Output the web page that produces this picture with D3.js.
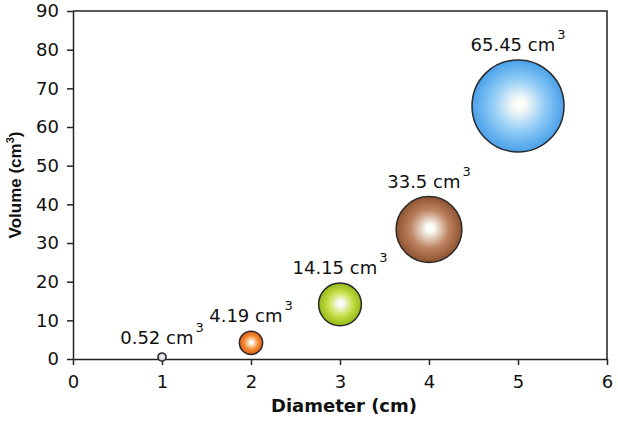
<!DOCTYPE html>
<html>
<head>
<meta charset="utf-8">
<script src="https://cdn.jsdelivr.net/npm/d3@7"></script>
<style>
  html, body { margin: 0; padding: 0; background: #fff; }
  svg { display: block; }
</style>
</head>
<body>
<svg id="chart" width="618" height="427"></svg>
<script>
// ---- data ----
const diameters = [1, 2, 3, 4, 5];
const volumes = [0.52, 4.19, 14.15, 33.5, 65.45];
const volumeLabels = ["0.52", "4.19", "14.15", "33.5", "65.45"];
const xTicks = [0, 1, 2, 3, 4, 5, 6];
const yTicks = [0, 10, 20, 30, 40, 50, 60, 70, 80, 90];
const xTitle = "Diameter (cm)";
const yTitle = "Volume (cm";
const unitText = " cm";

// ---- styles ----
const edgeColors = ["#aaa4b8", "#de5812", "#94b816", "#8e5230", "#4aa0ea"];
const midColors  = ["#dcd8e4", "#f49038", "#c6de48", "#bd8462", "#8ecbf6"];

const svg = d3.select("#chart");
const W = 618, H = 427;
const margin = { left: 73, right: 11, top: 11, bottom: 68 };
const x = d3.scaleLinear().domain([0, 6]).range([margin.left, W - margin.right]);
const y = d3.scaleLinear().domain([0, 90]).range([H - margin.bottom, margin.top]);
const r = d3.scaleSqrt().domain([0, 65.45]).range([0, 46]);

const font = "'DejaVu Sans', sans-serif";
const axisColor = "#222";

// gradients
const defs = svg.append("defs");
volumes.forEach((v, i) => {
  const g = defs.append("radialGradient")
    .attr("id", "grad" + i)
    .attr("cx", "50%").attr("cy", "50%").attr("r", "50%")
    .attr("fx", "52%").attr("fy", "48%");
  g.append("stop").attr("offset", "0%").attr("stop-color", "#ffffff");
  g.append("stop").attr("offset", "12%").attr("stop-color", "#fbfbf6");
  g.append("stop").attr("offset", "58%").attr("stop-color", midColors[i]);
  g.append("stop").attr("offset", "100%").attr("stop-color", edgeColors[i]);
});

// frame (top + right)
svg.append("path")
  .attr("d", `M${x(0)},${y(90)}H${x(6)}V${y(0)}`)
  .attr("fill", "none").attr("stroke", axisColor).attr("stroke-width", 1.5);

// axes
const xAxis = svg.append("g")
  .attr("transform", `translate(0,${y(0)})`)
  .call(d3.axisBottom(x).tickValues(xTicks).tickFormat(d3.format("d"))
    .tickSize(6).tickSizeOuter(0).tickPadding(10));
const yAxis = svg.append("g")
  .attr("transform", `translate(${x(0)},0)`)
  .call(d3.axisLeft(y).tickValues(yTicks).tickFormat(d3.format("d"))
    .tickSize(6).tickSizeOuter(0).tickPadding(8));

[xAxis, yAxis].forEach(a => {
  a.select(".domain").attr("stroke", axisColor).attr("stroke-width", 1.5);
  a.selectAll(".tick line").attr("stroke", axisColor).attr("stroke-width", 1.5);
  a.selectAll(".tick text").attr("fill", "#111")
    .style("font-family", font).style("font-size", "18px");
});

// axis titles
svg.append("text")
  .attr("x", (x(0) + x(6)) / 2 + 4).attr("y", 412)
  .attr("text-anchor", "middle")
  .style("font-family", font).style("font-size", "18px").style("font-weight", "bold")
  .attr("fill", "#111")
  .text(xTitle);

const yt = svg.append("text")
  .attr("transform", `translate(21,${(y(0) + y(90)) / 2}) rotate(-90)`)
  .attr("text-anchor", "middle")
  .style("font-family", "'Liberation Sans', Arial, sans-serif").style("font-size", "17px").style("font-weight", "bold")
  .attr("fill", "#111");
yt.append("tspan").text(yTitle);
yt.append("tspan").attr("dy", -7).style("font-size", "11px").text("3");
yt.append("tspan").attr("dy", 7).text(")");

// bubbles
const data = diameters.map((d, i) => ({ d, v: volumes[i], label: volumeLabels[i], i }));

svg.append("g").selectAll("circle")
  .data(data).join("circle")
  .attr("cx", p => x(p.d))
  .attr("cy", p => y(p.v))
  .attr("r", p => r(p.v))
  .attr("fill", p => `url(#grad${p.i})`)
  .attr("stroke", "#2a2a2a")
  .attr("stroke-width", 1.5);

// labels
const lbl = svg.append("g").selectAll("text")
  .data(data).join("text")
  .attr("x", p => x(p.d))
  .attr("y", p => y(p.v) - r(p.v) - 9)
  .attr("text-anchor", "middle")
  .style("font-family", font).style("font-size", "18px")
  .attr("fill", "#111");
lbl.append("tspan").text(p => p.label + unitText);
lbl.append("tspan").attr("dx", 2).attr("dy", -12).style("font-size", "13px").text("3");
</script>
</body>
</html>
